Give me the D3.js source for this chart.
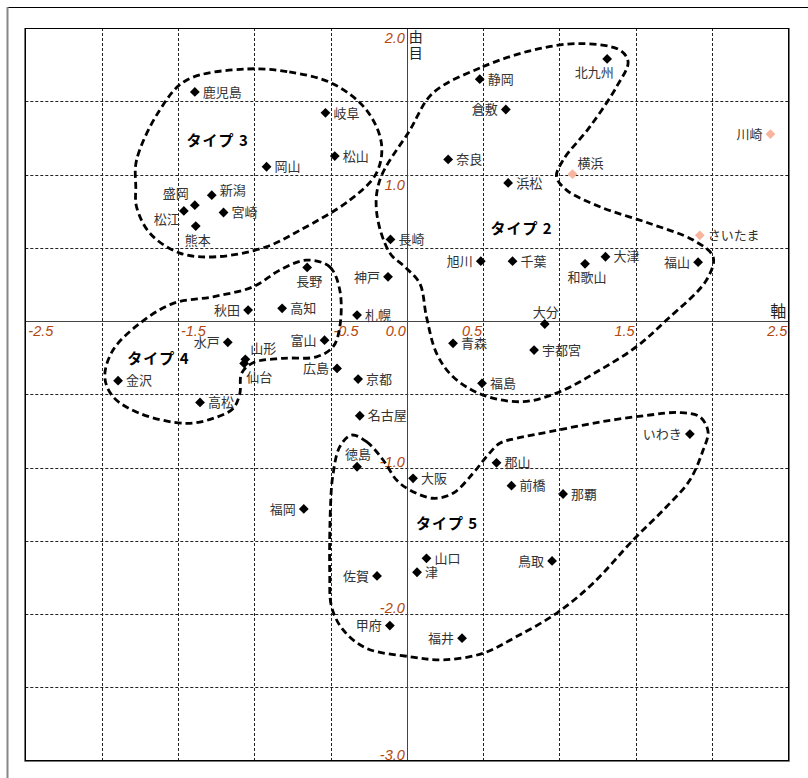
<!DOCTYPE html>
<html>
<head>
<meta charset="utf-8">
<script src="https://cdn.jsdelivr.net/npm/d3@7.9.0/dist/d3.min.js"></script>
<style>
  body { margin: 0; background: #fff; }
  svg { display: block; }
</style>
</head>
<body>
<div id="chart"></div>
<script>
// city names, scores on the two axes, and where the label sits
const cities = ['鹿児島','岐阜','松山','岡山','新潟','盛岡','松江','宮崎','熊本','長崎',
  '静岡','北九州','倉敷','川崎','奈良','横浜','浜松','さいたま','長野','神戸',
  '秋田','高知','札幌','水戸','富山','山形','仙台','金沢','高松','広島',
  '京都','名古屋','旭川','千葉','和歌山','大津','福山','大分','青森','宇都宮',
  '福島','いわき','徳島','福岡','佐賀','甲府','郡山','大阪','前橋','那覇',
  '山口','津','鳥取','福井'];
const xs = [-1.389,-0.533,-0.472,-0.919,-1.278,-1.389,-1.461,-1.201,-1.383,-0.107,
  0.478,1.313,0.649,2.383,0.271,1.086,0.664,1.920,-0.653,-0.123,
  -1.040,-0.817,-0.326,-1.173,-0.539,-1.058,-1.066,-1.892,-1.355,-0.457,
  -0.319,-0.308,0.485,0.693,1.168,1.302,1.909,0.904,0.303,0.834,
  0.493,1.855,-0.326,-0.675,-0.195,-0.111,0.588,0.041,0.686,1.024,
  0.129,0.067,0.952,0.362];
const ys = [1.564,1.421,1.126,1.053,0.859,0.791,0.752,0.741,0.648,0.557,
  1.651,1.789,1.444,1.276,1.103,1.003,0.943,0.585,0.366,0.302,
  0.075,0.087,0.041,-0.145,-0.130,-0.261,-0.289,-0.407,-0.555,-0.323,
  -0.396,-0.646,0.409,0.409,0.391,0.439,0.402,-0.020,-0.152,-0.198,
  -0.425,-0.771,-0.994,-1.282,-1.739,-2.078,-0.967,-1.073,-1.123,-1.180,
  -1.619,-1.714,-1.637,-2.164];
const labelPos = ['r','r','r','r','nr','tl','bl','r','b','r',
  'r','bc','l','l','r','tr','r','r','b','l',
  'l','r','r','l','l','tr','br','r','r','l',
  'r','r','l','r','b','r','l','t','r','r',
  'r','l','t','l','l','l','r','r','r','r',
  'r','r','l','l'];
const highlighted = ['川崎','横浜','さいたま'];

// group names and where they are written
const groups = ['タイプ3','タイプ2','タイプ4','タイプ5'];
const groupX = [-1.239, 0.752, -1.628, 0.264];
const groupY = [1.23, 0.63, -0.254, -1.38];

// hand-drawn outlines round each group
const loop3 = [[-1.05,1.72],[-0.77,1.70],[-0.485,1.62],[-0.264,1.44],[-0.166,1.21],[-0.199,1.01],
  [-0.374,0.825],[-0.70,0.62],[-0.92,0.507],[-1.247,0.439],[-1.488,0.464],[-1.684,0.60],
  [-1.771,0.78],[-1.776,0.916],[-1.771,1.098],[-1.619,1.44],[-1.444,1.644]];
const loop2 = [[0.17,1.555],[0.498,1.735],[0.826,1.849],[1.134,1.894],[1.396,1.849],[1.450,1.769],
  [1.374,1.598],[1.199,1.325],[1.024,1.098],[0.981,0.984],[1.047,0.894],[1.265,0.78],
  [1.592,0.666],[1.876,0.553],[2.007,0.439],[1.964,0.28],[1.702,0.007],[1.505,-0.175],
  [1.265,-0.334],[1.003,-0.482],[0.762,-0.55],[0.50,-0.505],[0.303,-0.38],[0.195,-0.22],
  [0.129,0.029],[0.085,0.257],[-0.013,0.37],[-0.111,0.464],[-0.197,0.737],[-0.177,0.962],
  [0.02,1.303]];
const loop4 = [[-0.657,0.416],[-0.505,0.37],[-0.439,0.211],[-0.439,-0.039],[-0.483,-0.175],
  [-0.592,-0.244],[-0.811,-0.254],[-1.007,-0.284],[-1.083,-0.357],[-1.094,-0.493],
  [-1.138,-0.596],[-1.269,-0.664],[-1.444,-0.698],[-1.75,-0.63],[-1.925,-0.516],
  [-1.979,-0.38],[-1.925,-0.198],[-1.75,-0.016],[-1.531,0.121],[-1.269,0.166],
  [-1.007,0.234],[-0.832,0.348]];
const loop5 = [[-0.362,-0.778],[-0.264,-0.823],[-0.155,-0.948],[-0.067,-1.085],[0.02,-1.153],
  [0.172,-1.209],[0.303,-1.175],[0.434,-1.039],[0.522,-0.926],[0.609,-0.834],[0.719,-0.80],
  [0.937,-0.755],[1.265,-0.689],[1.592,-0.641],[1.789,-0.624],[1.92,-0.653],[1.974,-0.755],
  [1.942,-0.88],[1.855,-1.085],[1.702,-1.267],[1.483,-1.494],[1.221,-1.789],[0.981,-1.994],
  [0.719,-2.153],[0.50,-2.267],[0.238,-2.312],[0.02,-2.29],[-0.264,-2.233],[-0.417,-2.108],
  [-0.493,-1.949],[-0.505,-1.721],[-0.50,-1.267],[-0.485,-1.057],[-0.439,-0.857]];

// tick labels
const xTicks = [-2.5,-1.5,-0.5,0.0,0.5,1.5,2.5];
const xTickText = ['-2.5','-1.5','-0.5','0.0','0.5','1.5','2.5'];
const yTicks = [2.0,1.0,-1.0,-2.0,-3.0];
const yTickText = ['2.0','1.0','-1.0','-2.0','-3.0'];
const gridX = [-2.0,-1.5,-1.0,-0.5,0.5,1.0,1.5,2.0];
const gridY = [1.5,1.0,0.5,-0.5,-1.0,-1.5,-2.0,-2.5];

const width = 808, height = 778;
const svg = d3.select('#chart').append('svg')
  .attr('width', width).attr('height', height);

const x = d3.scaleLinear().domain([-2.5, 2.5]).range([25.3, 788.3]);
const y = d3.scaleLinear().domain([-3, 2]).range([760.7, 28]);

// outer frame (only top and left edges visible)
svg.append('line').attr('x1', 7).attr('x2', width).attr('y1', 7.5).attr('y2', 7.5)
  .attr('stroke', '#000').attr('stroke-width', 1);
svg.append('line').attr('x1', 7.5).attr('x2', 7.5).attr('y1', 7).attr('y2', height)
  .attr('stroke', '#888').attr('stroke-width', 2);

// gridlines
const grid = svg.append('g').attr('stroke', '#222').attr('stroke-width', 1)
  .attr('stroke-dasharray', '3,2');
grid.selectAll('.gx').data(gridX).join('line')
  .attr('x1', d => Math.round(x(d)) + 0.5).attr('x2', d => Math.round(x(d)) + 0.5)
  .attr('y1', y(2)).attr('y2', y(-3));
grid.selectAll('.gy').data(gridY).join('line')
  .attr('y1', d => Math.round(y(d)) + 0.5).attr('y2', d => Math.round(y(d)) + 0.5)
  .attr('x1', x(-2.5)).attr('x2', x(2.5));

// axes through the origin
svg.append('line').attr('x1', x(-2.5)).attr('x2', x(2.5))
  .attr('y1', Math.round(y(0)) + 0.5).attr('y2', Math.round(y(0)) + 0.5)
  .attr('stroke', '#444');
svg.append('line').attr('y1', y(2)).attr('y2', y(-3))
  .attr('x1', Math.round(x(0)) + 0.5).attr('x2', Math.round(x(0)) + 0.5)
  .attr('stroke', '#444');

// plot border with a grey shadow
svg.append('rect').attr('x', 25.5).attr('y', 28.5)
  .attr('width', 763).attr('height', 732)
  .attr('fill', 'none').attr('stroke', '#000');
svg.append('path').attr('d', 'M24.5,28 V761.5 H789.5 V28')
  .attr('fill', 'none').attr('stroke', '#777');

// tick labels
const tickColor = '#b5470c';
svg.append('g').selectAll('text').data(xTicks).join('text')
  .attr('x', d => d < 0 ? x(d) + 3 : x(d) - 1)
  .attr('y', y(0) + 15)
  .attr('text-anchor', d => d < 0 ? 'start' : 'end')
  .attr('font-family', 'Liberation Sans, Arial, sans-serif')
  .attr('font-style', 'italic').attr('font-size', 14.5)
  .attr('fill', tickColor)
  .text((d, i) => xTickText[i]);
svg.append('g').selectAll('text').data(yTicks).join('text')
  .attr('x', x(0) - 2)
  .attr('y', d => d > 0 ? y(d) + 15 : y(d) - 1)
  .attr('text-anchor', 'end')
  .attr('font-family', 'Liberation Sans, Arial, sans-serif')
  .attr('font-style', 'italic').attr('font-size', 14.5)
  .attr('fill', tickColor)
  .text((d, i) => yTickText[i]);

// axis titles
svg.append('text').attr('x', x(2.5) - 2).attr('y', y(0) - 4)
  .attr('text-anchor', 'end').attr('font-family', 'Noto Sans CJK JP')
  .attr('font-size', 16).attr('fill', '#222').text('軸');
const yt = svg.append('text').attr('font-family', 'Noto Sans CJK JP')
  .attr('font-size', 14).attr('fill', '#222').attr('text-anchor', 'middle');
yt.append('tspan').attr('x', x(0) + 9).attr('y', y(2) + 14).text('由');
yt.append('tspan').attr('x', x(0) + 9).attr('y', y(2) + 30).text('目');

// group outlines
const outline = d3.line().x(d => x(d[0])).y(d => y(d[1]))
  .curve(d3.curveCatmullRomClosed.alpha(0.5));
svg.append('g').selectAll('path').data([loop3, loop2, loop4, loop5]).join('path')
  .attr('d', outline)
  .attr('fill', 'none').attr('stroke', '#000')
  .attr('stroke-width', 2.8).attr('stroke-dasharray', '7,4');

// points
const points = cities.map((c, i) => ({ name: c, x: xs[i], y: ys[i], pos: labelPos[i] }));
const diamond = d3.symbol(d3.symbolSquare, 48)();
svg.append('g').selectAll('path').data(points).join('path')
  .attr('d', diamond)
  .attr('transform', d => `translate(${x(d.x)},${y(d.y)}) rotate(45)`)
  .attr('fill', d => highlighted.includes(d.name) ? '#f8b49c' : '#000');

// point labels
const offsets = {
  r:  [8, 0, 'start'],  l:  [-8, 0, 'end'],
  nr: [8, -5, 'start'], t:  [1, -12, 'middle'],
  b:  [2, 14, 'middle'], bc: [-13, 13, 'middle'],
  tl: [-19, -12, 'middle'], bl: [-17, 8, 'middle'],
  tr: [5, -11, 'start'], br: [2, 14, 'start']
};
svg.append('g').selectAll('text').data(points).join('text')
  .attr('x', d => x(d.x) + offsets[d.pos][0])
  .attr('y', d => y(d.y) + offsets[d.pos][1])
  .attr('dy', '0.36em')
  .attr('text-anchor', d => offsets[d.pos][2])
  .attr('font-family', 'Noto Sans CJK JP').attr('font-size', 13)
  .attr('fill', '#333')
  .text(d => d.name);

// group names
svg.append('g').selectAll('text').data(groups).join('text')
  .attr('x', (d, i) => x(groupX[i]))
  .attr('y', (d, i) => y(groupY[i]))
  .attr('dy', '0.36em').attr('text-anchor', 'middle')
  .attr('font-family', 'Noto Sans CJK JP').attr('font-weight', 'bold')
  .attr('font-size', 15).attr('letter-spacing', 1).attr('fill', '#000')
  .text(d => d.replace('プ', 'プ '));
</script>
</body>
</html>
